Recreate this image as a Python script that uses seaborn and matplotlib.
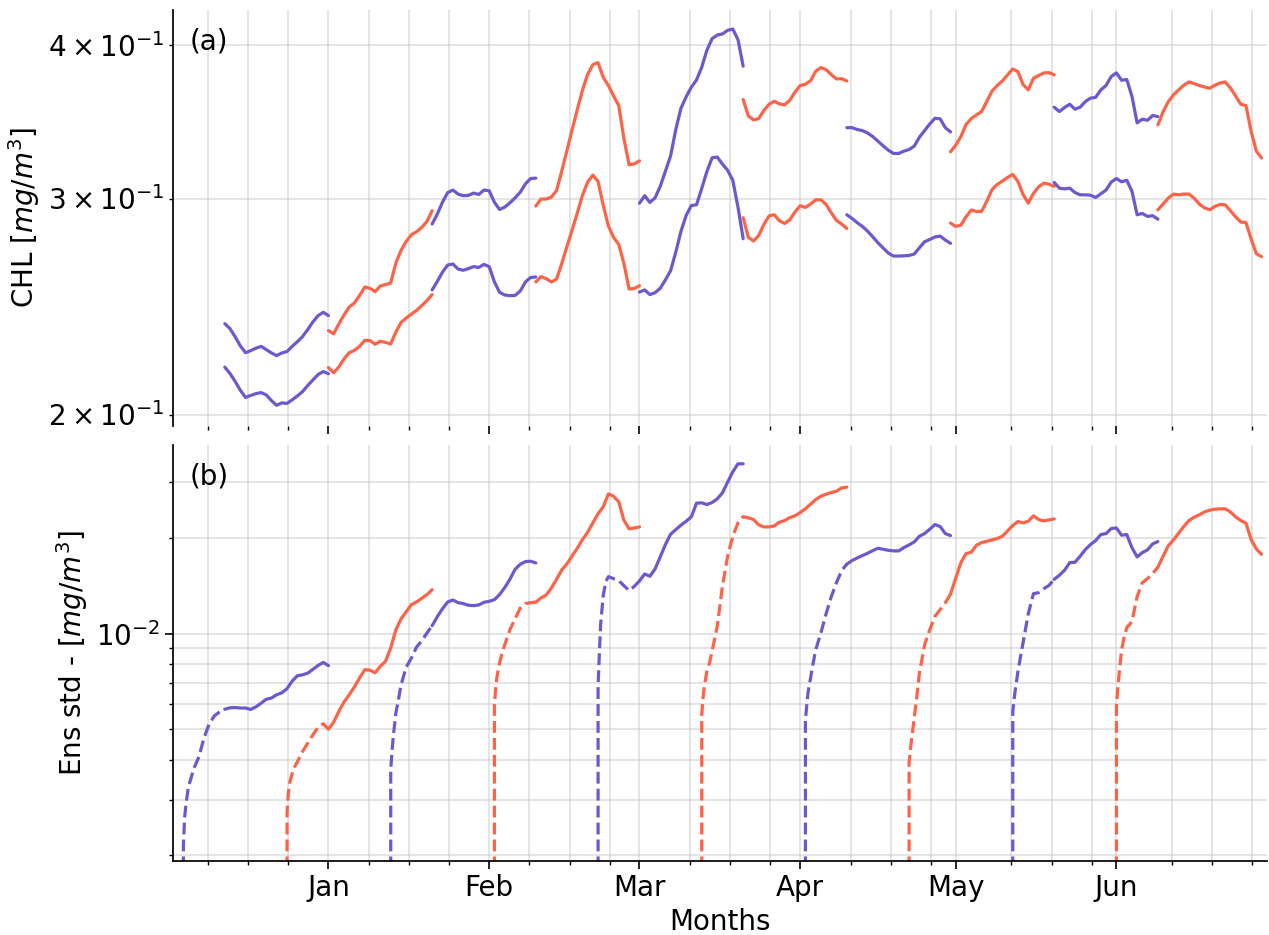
"""Two-panel CHL forecast figure: ensemble mean CHL (a) and ensemble spread (b)."""

import matplotlib

matplotlib.use("Agg")
import matplotlib.dates as mdates
import matplotlib.pyplot as plt
import matplotlib.ticker as mticker
import numpy as np
import pandas as pd
import seaborn as sns

# forecast initialisation dates, colours alternate between consecutive runs
INIT_DATES = [
    "2019-12-04", "2019-12-24", "2020-01-13", "2020-02-02", "2020-02-22",
    "2020-03-13", "2020-04-02", "2020-04-22", "2020-05-12", "2020-06-01",
]
RUN_COLORS = ["#6a5acd", "#ff6347"]

# lead times (days): spin-up part (dashed) and forecast part (solid)
SPINUP_DAYS = [0, 0.01, 0.25, 0.5, 1, 1.5, 2, 3, 4, 5, 6, 7, 8]
FORECAST_DAYS = list(range(8, 29))

# panel (a): CHL [mg/m3] over the forecast window, two curves per run
CHL_UPPER = [
    [0.2372, 0.2350, 0.2314, 0.2275, 0.2246, 0.2255, 0.2265, 0.2273, 0.2259, 0.2245, 0.2234,
     0.2245, 0.2251, 0.2273, 0.2293, 0.2315, 0.2346, 0.2380, 0.2408, 0.2423, 0.2408],
    [0.2341, 0.2327, 0.2371, 0.2411, 0.2447, 0.2466, 0.2500, 0.2541, 0.2535, 0.2519, 0.2546,
     0.2552, 0.2560, 0.2658, 0.2722, 0.2768, 0.2803, 0.2819, 0.2842, 0.2874, 0.2932],
    [0.2860, 0.2914, 0.2980, 0.3034, 0.3048, 0.3025, 0.3016, 0.3018, 0.3031, 0.3023, 0.3048,
     0.3044, 0.2980, 0.2939, 0.2952, 0.2976, 0.3004, 0.3036, 0.3084, 0.3115, 0.3117],
    [0.2958, 0.2997, 0.2997, 0.3008, 0.3046, 0.3158, 0.3283, 0.3413, 0.3545, 0.3676, 0.3788,
     0.3858, 0.3872, 0.3767, 0.3709, 0.3637, 0.3572, 0.3356, 0.3196, 0.3202, 0.3220],
    [0.2974, 0.3016, 0.2978, 0.3004, 0.3069, 0.3158, 0.3250, 0.3415, 0.3554, 0.3631, 0.3697,
     0.3748, 0.3838, 0.3963, 0.4050, 0.4078, 0.4086, 0.4114, 0.4124, 0.4043, 0.3846],
    [0.3613, 0.3503, 0.3477, 0.3486, 0.3539, 0.3581, 0.3601, 0.3583, 0.3577, 0.3608, 0.3663,
     0.3709, 0.3718, 0.3743, 0.3810, 0.3836, 0.3821, 0.3786, 0.3755, 0.3757, 0.3741],
    [0.3427, 0.3427, 0.3415, 0.3408, 0.3393, 0.3370, 0.3341, 0.3312, 0.3285, 0.3265, 0.3265,
     0.3279, 0.3289, 0.3310, 0.3366, 0.3408, 0.3451, 0.3488, 0.3484, 0.3427, 0.3400],
    [0.3275, 0.3316, 0.3370, 0.3447, 0.3486, 0.3510, 0.3532, 0.3601, 0.3670, 0.3709, 0.3741,
     0.3784, 0.3826, 0.3807, 0.3716, 0.3679, 0.3760, 0.3779, 0.3798, 0.3800, 0.3784],
    [0.3561, 0.3532, 0.3559, 0.3581, 0.3548, 0.3561, 0.3599, 0.3622, 0.3628, 0.3679, 0.3709,
     0.3772, 0.3798, 0.3746, 0.3751, 0.3635, 0.3458, 0.3482, 0.3475, 0.3506, 0.3499],
    [0.3445, 0.3530, 0.3597, 0.3644, 0.3679, 0.3711, 0.3734, 0.3723, 0.3709, 0.3699, 0.3690,
     0.3711, 0.3727, 0.3734, 0.3692, 0.3637, 0.3581, 0.3572, 0.3402, 0.3279, 0.3238],
]
CHL_LOWER = [
    [0.2186, 0.2160, 0.2128, 0.2093, 0.2065, 0.2073, 0.2080, 0.2084, 0.2075, 0.2053, 0.2035,
     0.2044, 0.2042, 0.2056, 0.2071, 0.2088, 0.2112, 0.2134, 0.2156, 0.2168, 0.2159],
    [0.2184, 0.2163, 0.2187, 0.2220, 0.2246, 0.2256, 0.2273, 0.2299, 0.2298, 0.2282, 0.2295,
     0.2290, 0.2283, 0.2335, 0.2377, 0.2397, 0.2415, 0.2432, 0.2454, 0.2477, 0.2505],
    [0.2527, 0.2568, 0.2613, 0.2648, 0.2653, 0.2628, 0.2622, 0.2630, 0.2640, 0.2636, 0.2651,
     0.2640, 0.2566, 0.2516, 0.2503, 0.2500, 0.2501, 0.2522, 0.2565, 0.2587, 0.2589],
    [0.2565, 0.2591, 0.2581, 0.2565, 0.2579, 0.2655, 0.2741, 0.2828, 0.2919, 0.3019, 0.3094,
     0.3135, 0.3098, 0.2963, 0.2849, 0.2789, 0.2753, 0.2655, 0.2531, 0.2534, 0.2547],
    [0.2517, 0.2527, 0.2505, 0.2514, 0.2535, 0.2575, 0.2620, 0.2713, 0.2821, 0.2906, 0.2961,
     0.2965, 0.3057, 0.3156, 0.3238, 0.3243, 0.3200, 0.3164, 0.3104, 0.2952, 0.2782],
    [0.2894, 0.2789, 0.2770, 0.2799, 0.2858, 0.2904, 0.2910, 0.2877, 0.2863, 0.2883, 0.2925,
     0.2960, 0.2950, 0.2969, 0.2993, 0.2993, 0.2967, 0.2921, 0.2879, 0.2860, 0.2836],
    [0.2910, 0.2890, 0.2867, 0.2847, 0.2822, 0.2792, 0.2761, 0.2734, 0.2708, 0.2693, 0.2693,
     0.2694, 0.2696, 0.2703, 0.2735, 0.2766, 0.2778, 0.2791, 0.2796, 0.2775, 0.2758],
    [0.2865, 0.2847, 0.2854, 0.2899, 0.2936, 0.2928, 0.2928, 0.2985, 0.3050, 0.3080, 0.3100,
     0.3121, 0.3139, 0.3098, 0.3023, 0.2974, 0.3029, 0.3067, 0.3088, 0.3082, 0.3069],
    [0.3092, 0.3059, 0.3055, 0.3059, 0.3034, 0.3021, 0.3021, 0.3019, 0.3006, 0.3027, 0.3048,
     0.3094, 0.3115, 0.3096, 0.3105, 0.3042, 0.2910, 0.2917, 0.2901, 0.2905, 0.2886],
    [0.2937, 0.2969, 0.3002, 0.3025, 0.3021, 0.3025, 0.3025, 0.3002, 0.2969, 0.2948, 0.2937,
     0.2956, 0.2967, 0.2965, 0.2932, 0.2899, 0.2870, 0.2868, 0.2780, 0.2705, 0.2690],
]

# panel (b): ensemble std [mg/m3], spin-up (at SPINUP_DAYS) and forecast (at FORECAST_DAYS)
STD_SPINUP = [
    [0, 2.16e-3, 2.63e-3, 2.89e-3, 3.31e-3, 3.51e-3, 3.75e-3, 4.09e-3, 4.70e-3, 5.20e-3, 5.51e-3, 5.67e-3, 5.78e-3],
    [0, 2.72e-3, 3.14e-3, 3.38e-3, 3.63e-3, 3.81e-3, 3.95e-3, 4.25e-3, 4.52e-3, 4.80e-3, 5.07e-3, 5.20e-3, 5.00e-3],
    [0, 3.72e-3, 4.25e-3, 4.74e-3, 5.62e-3, 6.19e-3, 6.90e-3, 7.85e-3, 8.38e-3, 9.08e-3, 9.50e-3, 1.005e-2, 1.060e-2],
    [0, 5.90e-3, 6.74e-3, 7.30e-3, 8.08e-3, 8.69e-3, 9.23e-3, 1.029e-2, 1.115e-2, 1.205e-2, 1.244e-2, 1.253e-2, 1.256e-2],
    [0, 6.85e-3, 8.59e-3, 1.068e-2, 1.318e-2, 1.459e-2, 1.513e-2, 1.491e-2, 1.470e-2, 1.417e-2, 1.367e-2, 1.410e-2, 1.467e-2],
    [0, 5.55e-3, 6.27e-3, 6.82e-3, 7.61e-3, 8.08e-3, 8.80e-3, 1.055e-2, 1.411e-2, 1.754e-2, 2.029e-2, 2.235e-2, 2.338e-2],
    [0, 5.35e-3, 5.90e-3, 6.50e-3, 7.25e-3, 8.08e-3, 8.90e-3, 1.007e-2, 1.156e-2, 1.309e-2, 1.449e-2, 1.581e-2, 1.657e-2],
    [0, 3.91e-3, 4.30e-3, 4.65e-3, 5.42e-3, 6.34e-3, 7.51e-3, 9.23e-3, 1.029e-2, 1.134e-2, 1.191e-2, 1.250e-2, 1.333e-2],
    [0, 5.67e-3, 6.19e-3, 6.66e-3, 7.59e-3, 8.46e-3, 9.37e-3, 1.156e-2, 1.337e-2, 1.347e-2, 1.387e-2, 1.420e-2, 1.484e-2],
    [0, 5.93e-3, 6.66e-3, 7.37e-3, 8.90e-3, 9.78e-3, 1.045e-2, 1.091e-2, 1.309e-2, 1.449e-2, 1.491e-2, 1.547e-2, 1.620e-2],
]
STD_FORECAST = [
    [5.78e-3, 5.84e-3, 5.85e-3, 5.83e-3, 5.83e-3, 5.77e-3, 5.88e-3, 6.04e-3, 6.21e-3, 6.27e-3, 6.42e-3,
     6.51e-3, 6.71e-3, 7.09e-3, 7.37e-3, 7.42e-3, 7.51e-3, 7.72e-3, 7.94e-3, 8.12e-3, 7.93e-3],
    [5.00e-3, 5.26e-3, 5.69e-3, 6.09e-3, 6.42e-3, 6.79e-3, 7.25e-3, 7.70e-3, 7.68e-3, 7.53e-3, 7.89e-3,
     8.18e-3, 9.01e-3, 1.029e-2, 1.113e-2, 1.173e-2, 1.235e-2, 1.259e-2, 1.293e-2, 1.328e-2, 1.377e-2],
    [1.060e-2, 1.132e-2, 1.199e-2, 1.259e-2, 1.277e-2, 1.253e-2, 1.244e-2, 1.229e-2, 1.226e-2, 1.232e-2, 1.256e-2,
     1.265e-2, 1.280e-2, 1.328e-2, 1.397e-2, 1.484e-2, 1.596e-2, 1.655e-2, 1.688e-2, 1.692e-2, 1.671e-2],
    [1.256e-2, 1.296e-2, 1.324e-2, 1.394e-2, 1.484e-2, 1.588e-2, 1.659e-2, 1.759e-2, 1.859e-2, 1.980e-2, 2.088e-2,
     2.235e-2, 2.386e-2, 2.511e-2, 2.759e-2, 2.713e-2, 2.604e-2, 2.279e-2, 2.140e-2, 2.155e-2, 2.171e-2],
    [1.467e-2, 1.543e-2, 1.517e-2, 1.600e-2, 1.746e-2, 1.910e-2, 2.058e-2, 2.129e-2, 2.198e-2, 2.262e-2, 2.335e-2,
     2.579e-2, 2.585e-2, 2.554e-2, 2.591e-2, 2.661e-2, 2.780e-2, 3.004e-2, 3.238e-2, 3.432e-2, 3.432e-2],
    [2.338e-2, 2.318e-2, 2.290e-2, 2.203e-2, 2.171e-2, 2.171e-2, 2.187e-2, 2.246e-2, 2.273e-2, 2.323e-2, 2.352e-2,
     2.410e-2, 2.475e-2, 2.560e-2, 2.648e-2, 2.713e-2, 2.753e-2, 2.786e-2, 2.813e-2, 2.882e-2, 2.897e-2],
    [1.657e-2, 1.700e-2, 1.733e-2, 1.763e-2, 1.793e-2, 1.828e-2, 1.859e-2, 1.846e-2, 1.832e-2, 1.824e-2, 1.824e-2,
     1.868e-2, 1.905e-2, 1.947e-2, 2.029e-2, 2.068e-2, 2.135e-2, 2.208e-2, 2.177e-2, 2.068e-2, 2.039e-2],
    [1.333e-2, 1.495e-2, 1.675e-2, 1.789e-2, 1.806e-2, 1.900e-2, 1.937e-2, 1.956e-2, 1.975e-2, 1.995e-2, 2.029e-2,
     2.109e-2, 2.192e-2, 2.257e-2, 2.235e-2, 2.262e-2, 2.352e-2, 2.290e-2, 2.268e-2, 2.284e-2, 2.301e-2],
    [1.484e-2, 1.528e-2, 1.585e-2, 1.675e-2, 1.679e-2, 1.754e-2, 1.841e-2, 1.910e-2, 1.966e-2, 2.054e-2, 2.068e-2,
     2.145e-2, 2.155e-2, 2.044e-2, 2.054e-2, 1.868e-2, 1.746e-2, 1.802e-2, 1.837e-2, 1.919e-2, 1.952e-2],
    [1.620e-2, 1.754e-2, 1.891e-2, 1.975e-2, 2.074e-2, 2.177e-2, 2.273e-2, 2.329e-2, 2.369e-2, 2.421e-2, 2.451e-2,
     2.469e-2, 2.475e-2, 2.475e-2, 2.421e-2, 2.335e-2, 2.273e-2, 2.230e-2, 1.980e-2, 1.850e-2, 1.780e-2],
]

X_START, X_END = "2019-12-02", "2020-06-30"
FONT_SIZE = 20
LINE_WIDTH = 2.3


def minor_month_ticks(start, end, ref="2020-01-01", ndiv=4, min_gap=3.5):
    """Minor ticks every month/ndiv days from a reference, dropped near month starts."""
    ref_num = mdates.date2num(pd.Timestamp(ref))
    step = 31 / ndiv
    lo = mdates.date2num(pd.Timestamp(start))
    hi = mdates.date2num(pd.Timestamp(end))
    months = mdates.date2num(pd.date_range("2019-11-01", "2020-08-01", freq="MS"))
    ticks = []
    for k in range(int(np.floor((lo - ref_num) / step)), int(np.ceil((hi - ref_num) / step)) + 1):
        loc = ref_num + k * step
        if np.min(np.abs(months - loc)) >= min_gap:
            ticks.append(loc)
    return ticks


sns.set_theme(style="ticks")
plt.rcParams["font.family"] = ["DejaVu Sans"]
plt.rcParams["axes.edgecolor"] = "black"
plt.rcParams["text.color"] = "black"
plt.rcParams["axes.labelcolor"] = "black"
plt.rcParams["xtick.color"] = "black"
plt.rcParams["ytick.color"] = "black"

fig, (ax_chl, ax_std) = plt.subplots(2, 1, sharex=True, figsize=(12.69, 9.35), dpi=100)
fig.subplots_adjust(left=0.1363, right=0.9982, top=0.9893, bottom=0.0791, hspace=0.048)

for ax in (ax_chl, ax_std):
    ax.set_yscale("log")

for k, init in enumerate(INIT_DATES):
    color = RUN_COLORS[k % 2]
    t0 = pd.Timestamp(init)
    fc_dates = t0 + pd.to_timedelta(FORECAST_DAYS, unit="D")
    sp_dates = t0 + pd.to_timedelta(SPINUP_DAYS, unit="D")

    sns.lineplot(x=fc_dates, y=CHL_UPPER[k], color=color, lw=LINE_WIDTH, estimator=None, ax=ax_chl)
    sns.lineplot(x=fc_dates, y=CHL_LOWER[k], color=color, lw=LINE_WIDTH, estimator=None, ax=ax_chl)

    sns.lineplot(x=sp_dates, y=STD_SPINUP[k], color=color, lw=LINE_WIDTH, ls="--",
                 estimator=None, ax=ax_std)
    sns.lineplot(x=fc_dates, y=STD_FORECAST[k], color=color, lw=LINE_WIDTH, estimator=None, ax=ax_std)

ax_chl.set_ylim(0.1959, 0.4274)
ax_std.set_ylim(1.92e-3, 3.92e-2)
ax_std.set_xlim(pd.Timestamp(X_START), pd.Timestamp(X_END))

ax_std.xaxis.set_major_locator(mdates.MonthLocator())
ax_std.xaxis.set_major_formatter(mdates.DateFormatter("%b"))
ax_std.xaxis.set_minor_locator(mticker.FixedLocator(minor_month_ticks(X_START, X_END)))

for ax, tag in ((ax_chl, "(a)"), (ax_std, "(b)")):
    ax.grid(which="both", color="#c8c8c8", alpha=0.6, lw=1.1)
    ax.tick_params(which="major", length=6, width=1.2, labelsize=FONT_SIZE)
    ax.tick_params(which="minor", length=3, width=1.0, labelsize=FONT_SIZE)
    ax.text(0.015, 0.958, tag, transform=ax.transAxes, va="top", ha="left", fontsize=FONT_SIZE)
    ax.set_xlabel("")

sns.despine(ax=ax_chl, bottom=True)
sns.despine(ax=ax_std)

ax_chl.set_ylabel(r"CHL [$mg/m^3$]", fontsize=FONT_SIZE)
ax_std.set_ylabel(r"Ens std - [$mg/m^3$]", fontsize=FONT_SIZE)
ax_std.set_xlabel("Months", fontsize=FONT_SIZE)

fig.savefig("out.png", dpi=100)
plt.close(fig)
